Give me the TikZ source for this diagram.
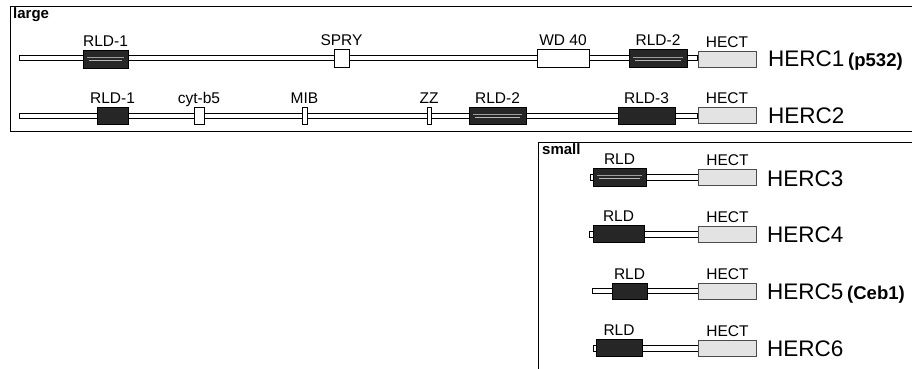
\documentclass[tikz,border=0pt]{standalone}
\usepackage{fontspec}
\setmainfont{Liberation Sans}
\usetikzlibrary{calc}
\newcommand\altnamefont{\fontsize{18.5}{19}\selectfont\bfseries}
\begin{document}
\begin{tikzpicture}[x=1pt,y=-1pt,
  frame/.style={draw=black,line width=1pt},
  bb/.style={draw=black,fill=white,line width=0.9pt},
  dom/.style={draw=black,line width=0.9pt,inner sep=0pt,minimum height=18pt},
  dark/.style={dom,fill=black!85},
  striped/.style={path picture={
      \draw[gray!75,line width=0.6pt]
        ($(path picture bounding box.west)+(4,-1.6)$) -- ($(path picture bounding box.east)+(-4,-1.6)$);
      \draw[gray!55,line width=0.5pt]
        ($(path picture bounding box.west)+(6,1.4)$) -- ($(path picture bounding box.east)+(-6,1.4)$);}},
  wbox/.style={dom,fill=white},
  hect/.style={dom,fill=black!11,draw=black!70,minimum height=16pt,minimum width=58pt},
  lab/.style={font=\fontsize{15.5}{16}\selectfont,inner sep=0pt,text depth=0pt},
  lbl/.style={label={[lab,label distance=3pt]above:#1}},
  gname/.style={font=\fontsize{22.5}{23}\selectfont,inner sep=0pt,anchor=base west},
  tag/.style={font=\fontsize{15}{16}\selectfont\bfseries,inner sep=0pt,anchor=base west}
]
\useasboundingbox (0,0) rectangle (912,369);

% frames
\draw[frame] (912,7) -- (10,7) -- (10,131) -- (912,131);
\draw[frame] (538,369) -- (538,142) -- (912,142);
\node[tag] (large) at (13,19) {large};
\node[tag] (small) at (542,154) {small};

% ---------- HERC1 ----------
\coordinate (a0) at (19,58);
\node[hect,lbl=HECT] (ahect) at (727,59) {};
\draw[bb] ($(a0)+(0,-2.5)$) rectangle ($(ahect.west |- a0)+(0,2.5)$);
\node[dark,striped,minimum width=45pt,lbl=RLD-1] (arld1) at (105.5,59) {};
\node[wbox,minimum width=15pt,lbl=SPRY] (aspry) at (341.5,58) {};
\node[wbox,minimum width=52pt,lbl=WD 40] (awd) at (563,58) {};
\node[dark,striped,minimum width=58pt,lbl=RLD-2] (arld2) at (658,58.5) {};
\node[hect] at (ahect) {};
\node[gname] (aname) at (768,66.5) {HERC1\,{\altnamefont(p532)}};

% ---------- HERC2 ----------
\coordinate (b0) at (19,116);
\node[hect,lbl=HECT] (bhect) at (727,115) {};
\draw[bb] ($(b0)+(0,-2.5)$) rectangle ($(bhect.west |- b0)+(0,2.5)$);
\node[dark,minimum width=31pt,minimum height=17pt,lbl=RLD-1] (brld1) at (112.5,115.5) {};
\node[wbox,minimum width=10pt,minimum height=17pt,lbl=cyt-b5] (bcyt) at (199,115.5) {};
\node[wbox,minimum width=5pt,minimum height=17pt,lbl=MIB] (bmib) at (304.5,115.5) {};
\node[wbox,minimum width=4pt,minimum height=17pt,lbl=ZZ] (bzz) at (429,115.5) {};
\node[dark,striped,minimum width=57pt,minimum height=17pt,lbl=RLD-2] (brld2) at (497.5,115.5) {};
\node[dark,minimum width=57pt,minimum height=17pt,lbl=RLD-3] (brld3) at (646.5,115.5) {};
\node[hect] at (bhect) {};
\node[gname] (bname) at (768,123) {HERC2};

% ---------- HERC3 ----------
\coordinate (c0) at (590,177);
\node[hect,lbl=HECT] (chect) at (727.5,177) {};
\draw[bb] ($(c0)+(0,-3)$) rectangle ($(chect.west |- c0)+(0,3)$);
\node[dark,striped,minimum width=53pt,lbl=RLD] (crld) at (619.5,177) {};
\node[hect] at (chect) {};
\node[gname] (cname) at (767,186) {HERC3};

% ---------- HERC4 ----------
\coordinate (d0) at (589,234);
\node[hect,lbl=HECT] (dhect) at (727.5,234) {};
\draw[bb] ($(d0)+(0,-3)$) rectangle ($(dhect.west |- d0)+(0,3)$);
\node[dark,minimum width=51pt,minimum height=17pt,lbl=RLD] (drld) at (618.5,233.5) {};
\node[hect] at (dhect) {};
\node[gname] (dname) at (767,242) {HERC4};

% ---------- HERC5 ----------
\coordinate (e0) at (592,291);
\node[hect,lbl=HECT] (ehect) at (727.5,291) {};
\draw[bb] ($(e0)+(0,-2.5)$) rectangle ($(ehect.west |- e0)+(0,2.5)$);
\node[dark,minimum width=35pt,minimum height=16pt,lbl=RLD] (erld) at (629.5,291) {};
\node[hect] at (ehect) {};
\node[gname] (ename) at (767,299) {HERC5\,{\altnamefont(Ceb1)}};

% ---------- HERC6 ----------
\coordinate (f0) at (593,348);
\node[hect,lbl=HECT] (fhect) at (727.5,348) {};
\draw[bb] ($(f0)+(0,-3)$) rectangle ($(fhect.west |- f0)+(0,3)$);
\node[dark,minimum width=46pt,minimum height=17pt,lbl=RLD] (frld) at (619,347.5) {};
\node[hect] at (fhect) {};
\node[gname] (fname) at (767,356) {HERC6};
\end{tikzpicture}
\end{document}
